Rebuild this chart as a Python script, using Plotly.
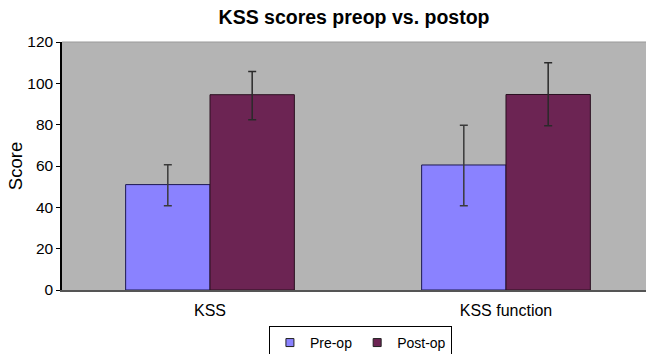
import plotly.graph_objects as go

categories = ["KSS", "KSS function"]
pre_op = [51, 60.5]
pre_err_plus = [9.6, 19.2]
pre_err_minus = [10.2, 19.7]
post_op = [94.5, 94.6]
post_err_plus = [11.2, 15.4]
post_err_minus = [12.1, 15.1]
y_ticks = [0, 20, 40, 60, 80, 100, 120]

FONT = "Liberation Sans, Arial, sans-serif"
PRE_COLOR = "#8a82ff"
POST_COLOR = "#6c2453"

fig = go.Figure()
fig.add_trace(go.Bar(
    name="Pre-op", x=categories, y=pre_op, showlegend=False,
    marker=dict(color=PRE_COLOR, line=dict(color="#1c1850", width=1)),
    error_y=dict(type="data", symmetric=False, array=pre_err_plus,
                 arrayminus=pre_err_minus, color="#3a3a3a", thickness=1.5, width=4),
))
fig.add_trace(go.Bar(
    name="Post-op", x=categories, y=post_op, showlegend=False,
    marker=dict(color=POST_COLOR, line=dict(color="#2a1020", width=1)),
    error_y=dict(type="data", symmetric=False, array=post_err_plus,
                 arrayminus=post_err_minus, color="#2a2a2a", thickness=1.5, width=4),
))
# legend-only entries with small square keys
for name, col in [("Pre-op", PRE_COLOR), ("Post-op", POST_COLOR)]:
    fig.add_trace(go.Scatter(
        name=name, x=[None], y=[None], mode="markers",
        marker=dict(symbol="square", size=8, color=col,
                    line=dict(color="#222222", width=1)),
    ))

fig.update_layout(
    width=646, height=354,
    margin=dict(l=62, r=0, t=42, b=64, autoexpand=False),
    paper_bgcolor="white",
    plot_bgcolor="#b4b4b4",
    barmode="group",
    bargap=0.43,
    bargroupgap=0,
    font=dict(family=FONT, color="black", size=14),
    title=dict(text="<b>KSS scores preop vs. postop</b>", x=0.5, xref="paper",
               y=0.952, yanchor="middle", font=dict(size=19.5, family=FONT)),
    showlegend=True,
    legend=dict(orientation="h", x=0.511, xanchor="center", y=-0.145, yanchor="top",
                bordercolor="black", borderwidth=1, bgcolor="white",
                font=dict(size=14, family=FONT), itemwidth=30,
                tracegroupgap=0),
)
fig.update_xaxes(
    range=[-0.5, 1.473], showgrid=False, showline=True, linecolor="#555555",
    linewidth=1.5, ticks="", tickfont=dict(size=16), fixedrange=True,
    automargin=False, ticklabelstandoff=5,
)
fig.update_yaxes(
    range=[0, 120], tickvals=y_ticks, showgrid=False, showline=True,
    linecolor="black", linewidth=1.5, ticks="outside", ticklen=4, tickwidth=1,
    tickcolor="black", tickfont=dict(size=15.5), zeroline=False, automargin=False,
    title=dict(text="Score", font=dict(size=18.5), standoff=0),
)
fig.add_shape(type="line", xref="paper", yref="paper", x0=0, x1=1, y0=1, y1=1,
              line=dict(color="#999999", width=1))

fig.write_html(
    "out.html",
    config={"displayModeBar": False},
    post_script="document.body.style.margin='0';document.body.style.overflow='hidden';",
)
